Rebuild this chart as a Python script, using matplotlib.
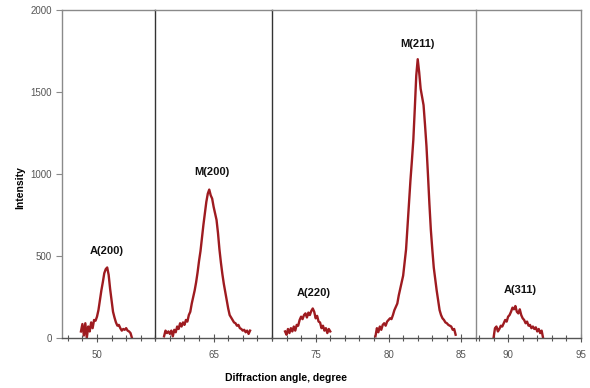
import matplotlib
matplotlib.use("Agg")
import matplotlib.pyplot as plt
from matplotlib.ticker import MultipleLocator, FixedLocator

plt.rcParams['font.family'] = ['Liberation Sans', 'DejaVu Sans']

# ---- data ----
a200_x = [48.9,49.0,49.1,49.2,49.3,49.4,49.5,49.6,49.7,49.8,49.9,50.0,50.1,50.2,50.3,50.4,50.5,50.6,50.7,50.8,
          50.9,51.0,51.1,51.2,51.3,51.4,51.5,51.6,51.7,51.8,51.9,52.0,52.1,52.2,52.3,52.4]
a200_y = [40,85,15,90,0,70,40,95,60,110,105,130,170,230,290,340,395,420,430,385,
          300,230,160,125,95,75,80,60,45,55,50,60,45,40,30,0]

m200_x = [61.6,61.7,61.8,61.9,62.0,62.1,62.2,62.3,62.4,62.5,62.6,62.7,62.8,62.9,63.0,63.1,63.2,63.3,63.4,63.5,
          63.6,63.7,63.8,63.9,64.0,64.1,64.2,64.3,64.4,64.5,64.6,64.7,64.8,64.9,65.0,65.1,65.2,65.3,65.4,65.5,
          65.6,65.7,65.8,65.9,66.0,66.1,66.2,66.3,66.4,66.5,66.6,66.7,66.8,66.9,67.0,67.1,67.2,67.3,67.4,67.5]
m200_y = [10,45,30,40,25,45,10,50,35,70,55,90,70,95,80,110,100,140,160,210,
          250,290,340,400,470,530,610,690,760,830,880,905,870,850,800,760,720,640,540,460,
          390,330,280,230,180,140,125,110,95,90,75,80,60,55,45,50,35,45,25,45]

a220_x = [72.9,73.0,73.1,73.2,73.3,73.4,73.5,73.6,73.7,73.8,73.9,74.0,74.1,74.2,74.3,74.4,74.5,74.6,74.7,74.8,
          74.9,75.0,75.1,75.2,75.3,75.4,75.5,75.6,75.7,75.8,75.9,76.0]
a220_y = [40,20,55,30,60,40,70,45,80,75,110,130,115,140,150,125,155,140,165,180,
          160,120,135,100,95,60,75,45,60,30,55,40]

m211_x = [79.1,79.2,79.3,79.4,79.5,79.6,79.7,79.8,79.9,80.0,80.1,80.2,80.3,80.4,80.5,80.6,80.7,80.8,80.9,81.0,
          81.1,81.2,81.3,81.4,81.5,81.6,81.7,81.8,81.9,82.0,82.1,82.2,82.3,82.4,82.5,82.6,82.7,82.8,82.9,83.0,
          83.1,83.2,83.3,83.4,83.5,83.6,83.7,83.8,83.9,84.0,84.1,84.2,84.3,84.4,84.5,84.6]
m211_y = [10,60,35,70,50,80,90,75,100,110,120,115,140,170,190,210,260,300,340,380,
          460,540,680,820,960,1080,1210,1400,1600,1700,1620,1520,1470,1420,1300,1170,1000,820,660,540,
          430,360,290,230,170,140,120,110,95,90,80,75,70,50,55,20]

a311_x = [89.0,89.1,89.2,89.3,89.4,89.5,89.6,89.7,89.8,89.9,90.0,90.1,90.2,90.3,90.4,90.5,90.6,90.7,90.8,90.9,
          91.0,91.1,91.2,91.3,91.4,91.5,91.6,91.7,91.8,91.9,92.0,92.1,92.2,92.3,92.4]
a311_y = [0,60,70,40,55,75,70,90,110,100,130,140,160,185,175,195,160,150,175,140,
          120,110,90,100,75,80,60,70,55,65,40,55,30,45,0]

peak_labels = ["A(200)", "M(200)", "A(220)", "M(211)", "A(311)"]
label_x = [50.65, 64.85, 74.9, 82.0, 90.8]
label_y = [530, 1015, 275, 1790, 295]

panel_limits = [(47.6, 54.0), (61.0, 69.0), (72.0, 86.0), (87.8, 95.0)]
panel_major = [[50], [65], [75, 80, 85], [90, 95]]
y_ticks = [0, 500, 1000, 1500, 2000]

# ---- figure ----
fig = plt.figure(figsize=(5.9, 3.88), dpi=100)
widths = [b - a for a, b in panel_limits]
gs = fig.add_gridspec(1, 4, width_ratios=widths, wspace=0,
                      left=62/590, right=581/590, top=1-10/388, bottom=1-338/388)
axes = [fig.add_subplot(gs[0, i]) for i in range(4)]

line_color = '#9E1B20'
series = [(0, a200_x, a200_y), (1, m200_x, m200_y), (2, a220_x, a220_y),
          (2, m211_x, m211_y), (3, a311_x, a311_y)]
for idx, xs, ys in series:
    axes[idx].plot(xs, ys, color=line_color, lw=1.7)

panel_of_label = [0, 1, 2, 2, 3]
for t, lx, ly, p in zip(peak_labels, label_x, label_y, panel_of_label):
    axes[p].text(lx, ly, t, ha='center', va='center', fontsize=8,
                 fontweight='bold', color='#111111')

grey = '#8a8a8a'
for i, ax in enumerate(axes):
    ax.set_xlim(*panel_limits[i])
    ax.set_ylim(0, 2000)
    ax.xaxis.set_major_locator(FixedLocator(panel_major[i]))
    ax.xaxis.set_minor_locator(MultipleLocator(1))
    ax.tick_params(axis='x', which='major', direction='inout', length=6,
                   width=0.8, color='#555555', labelsize=7, labelcolor='#555555', pad=6)
    ax.tick_params(axis='x', which='minor', direction='inout', length=4,
                   width=0.8, color='#555555')
    for s in ['top', 'bottom', 'left', 'right']:
        ax.spines[s].set_linewidth(1.0)
    ax.spines['top'].set_color(grey)
    ax.spines['bottom'].set_color('#555555')
    if i == 0:
        ax.spines['left'].set_color(grey)
        ax.set_yticks(y_ticks)
        ax.tick_params(axis='y', direction='out', length=4, width=0.8, color=grey,
                       labelsize=7, labelcolor='#555555')
    else:
        ax.spines['left'].set_color('#333333' if i < 3 else grey)
        ax.tick_params(axis='y', left=False, labelleft=False)
    if i < 3:
        ax.spines['right'].set_visible(False)
    else:
        ax.spines['right'].set_color(grey)

fig.text(286/590, 1-378/388, "Diffraction angle, degree", ha='center', va='center',
         fontsize=7.5, fontweight='bold')
fig.text(20/590, 1-188/388, "Intensity", ha='center', va='center', rotation=90,
         fontsize=7.5, fontweight='bold')

fig.savefig("out.png", dpi=100)
